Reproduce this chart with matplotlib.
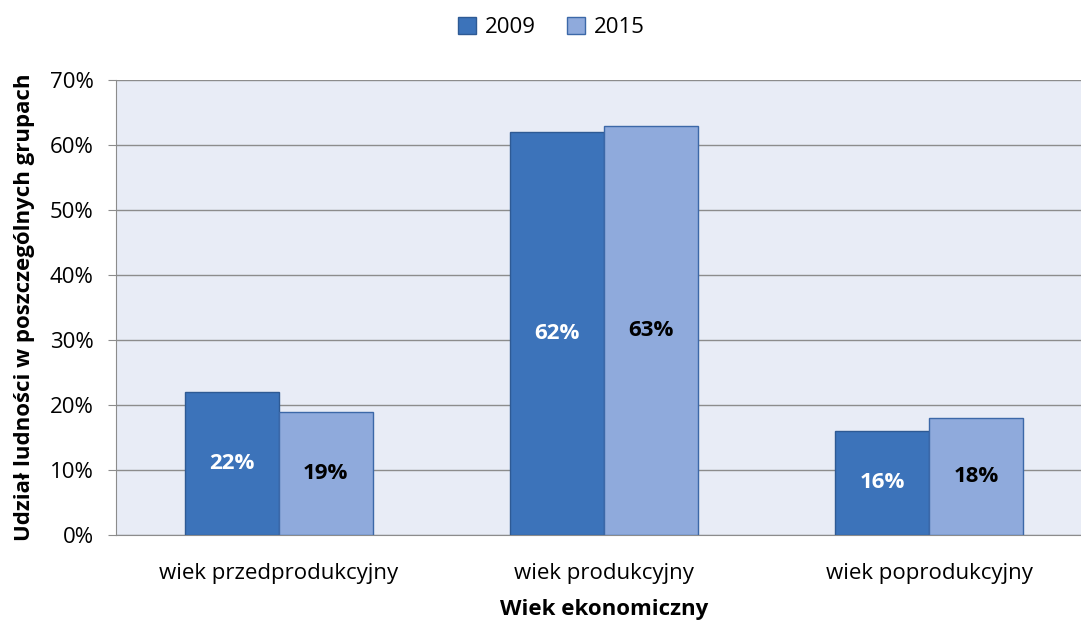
import numpy as np
import matplotlib.pyplot as plt
from matplotlib.ticker import PercentFormatter

plt.rcParams['font.family'] = ['Open Sans', 'DejaVu Sans']

categories = ['wiek przedprodukcyjny', 'wiek produkcyjny', 'wiek poprodukcyjny']
years = ['2009', '2015']
values_2009 = [22, 62, 16]
values_2015 = [19, 63, 18]

x = np.arange(len(categories))
w = 0.289
fs = 16

fig = plt.figure(figsize=(10.81, 6.2), dpi=100)
ax = fig.add_axes([116 / 1081, 85 / 620, 976 / 1081, 455 / 620])
ax.set_facecolor('#E8ECF6')

b1 = ax.bar(x - w / 2, values_2009, w, color='#3C73BA', edgecolor='#2E5A94',
            linewidth=1, label=years[0], zorder=3)
b2 = ax.bar(x + w / 2, values_2015, w, color='#8FAADC', edgecolor='#3C68A8',
            linewidth=1, label=years[1], zorder=3)

for bars, col in ((b1, 'white'), (b2, 'black')):
    for r in bars:
        h = r.get_height()
        ax.text(r.get_x() + r.get_width() / 2, h / 2, f'{h:.0f}%', ha='center',
                va='center', color=col, fontsize=fs, fontweight='bold', zorder=4)

ax.set_xlim(-0.5, 2.5)
ax.set_ylim(0, 70)
ax.set_yticks(np.arange(0, 71, 10))
ax.yaxis.set_major_formatter(PercentFormatter(decimals=0))
ax.yaxis.grid(True, color='#8C8C8C', linewidth=1, zorder=0)
ax.set_xticks(x)
ax.set_xticklabels(categories)
ax.tick_params(axis='x', length=0, labelsize=fs, pad=20)
ax.tick_params(axis='y', length=6, color='#8C8C8C', labelsize=fs, pad=10)
for s in ['top', 'right']:
    ax.spines[s].set_visible(False)
for s in ['left', 'bottom']:
    ax.spines[s].set_color('#8C8C8C')

ax.set_xlabel('Wiek ekonomiczny', fontsize=fs, fontweight='bold', labelpad=11)
ax.set_ylabel('Udział ludności w poszczególnych grupach', fontsize=fs,
              fontweight='bold', labelpad=11)

fig.legend(loc='upper center', bbox_to_anchor=(0.51, 1.005), ncol=2, frameon=False,
           fontsize=fs, handlelength=0.8, handleheight=0.8, columnspacing=1.4,
           handletextpad=0.4)

fig.savefig('out.png', dpi=100)
